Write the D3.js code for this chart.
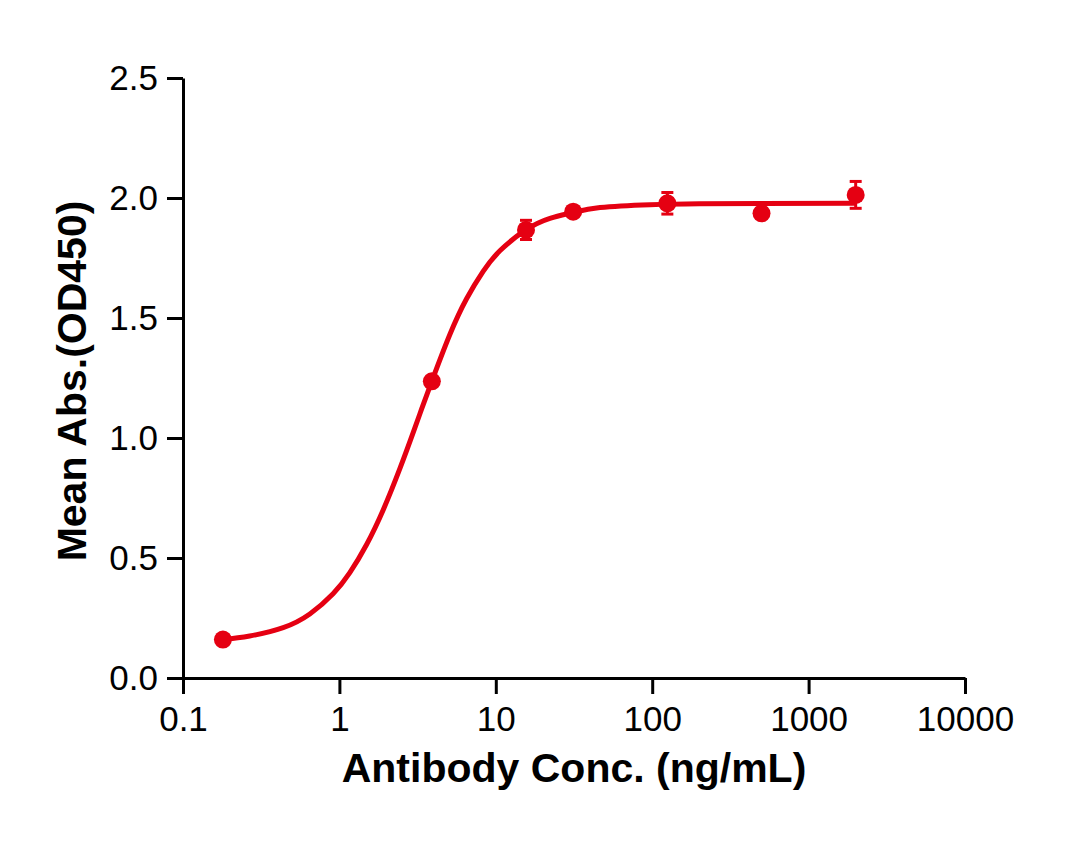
<!DOCTYPE html>
<html>
<head>
<meta charset="utf-8">
<script src="https://cdn.jsdelivr.net/npm/d3@7"></script>
<style>
  body { margin: 0; background: #fff; }
  svg { display: block; }
  text { font-family: "Liberation Sans", Arial, Helvetica, sans-serif; }
</style>
</head>
<body>
<svg id="chart" width="1090" height="849"></svg>
<script>
// measured points (mean +/- sd)
var conc = [0.18, 3.9, 15.6, 31.25, 125, 500, 2000];
var meanAbs = [0.160, 1.236, 1.867, 1.943, 1.978, 1.936, 2.013];
var sdAbs = [0.008, 0.01, 0.04, 0.01, 0.045, 0.01, 0.056];

// fitted curve
var fitX = [0.18, 0.267, 0.437, 0.647, 0.911, 1.166, 1.49, 1.905, 2.435, 2.962, 3.352, 3.918,
            5.085, 6.503, 8.30, 10.62, 15.58, 22.2, 31.0, 46.4, 96.8, 200, 500, 2000];
var fitY = [0.160, 0.175, 0.210, 0.267, 0.351, 0.439, 0.555, 0.700, 0.872, 1.022, 1.120, 1.240,
            1.431, 1.580, 1.694, 1.780, 1.867, 1.915, 1.939, 1.960, 1.972, 1.976, 1.977, 1.978];

var xTicks = [0.1, 1, 10, 100, 1000, 10000];
var yTicks = [0, 0.5, 1.0, 1.5, 2.0, 2.5];

var red = "#e50012";
var margin = {left: 183, top: 78, right: 125, bottom: 171};
var W = 1090, H = 849;

var svg = d3.select("#chart");

var x = d3.scaleLog().domain([0.1, 10000]).range([margin.left, W - margin.right]);
var y = d3.scaleLinear().domain([0, 2.5]).range([H - margin.bottom, margin.top]);

// axes
var xAxis = svg.append("g")
    .attr("transform", "translate(0," + y(0) + ")")
    .call(d3.axisBottom(x).tickValues(xTicks).tickFormat(d3.format("~g")).tickSize(16).tickPadding(10).tickSizeOuter(0));
var yAxis = svg.append("g")
    .attr("transform", "translate(" + x(0.1) + ",0)")
    .call(d3.axisLeft(y).tickValues(yTicks).tickFormat(d3.format(".1f")).tickSize(16).tickPadding(9).tickSizeOuter(0));

[xAxis, yAxis].forEach(function(g){
    g.select(".domain").attr("stroke", "#000").attr("stroke-width", 3);
    g.selectAll(".tick line").attr("stroke", "#000").attr("stroke-width", 3);
    g.selectAll(".tick text").attr("fill", "#000").style("font-size", "35px");
});
xAxis.selectAll(".tick text").attr("dy", "0.78em");

// curve
var line = d3.line()
    .x(function(d){ return x(d[0]); })
    .y(function(d){ return y(d[1]); })
    .curve(d3.curveNatural);

svg.append("path")
    .datum(d3.zip(fitX, fitY))
    .attr("d", line)
    .attr("fill", "none")
    .attr("stroke", red)
    .attr("stroke-width", 5);

// error bars
var pts = conc.map(function(c, i){ return {c: c, m: meanAbs[i], sd: sdAbs[i]}; });
var eb = svg.append("g").attr("stroke", red).attr("stroke-width", 3);
eb.selectAll("line.v").data(pts).enter().append("line")
    .attr("x1", function(d){ return x(d.c); })
    .attr("x2", function(d){ return x(d.c); })
    .attr("y1", function(d){ return y(d.m - d.sd); })
    .attr("y2", function(d){ return y(d.m + d.sd); });
[1, -1].forEach(function(s){
    eb.selectAll("line.cap" + s).data(pts).enter().append("line")
        .attr("x1", function(d){ return x(d.c) - 6; })
        .attr("x2", function(d){ return x(d.c) + 6; })
        .attr("y1", function(d){ return y(d.m + s * d.sd); })
        .attr("y2", function(d){ return y(d.m + s * d.sd); });
});

// points
svg.append("g").selectAll("circle").data(pts).enter().append("circle")
    .attr("cx", function(d){ return x(d.c); })
    .attr("cy", function(d){ return y(d.m); })
    .attr("r", 9)
    .attr("fill", red);

// titles
svg.append("text")
    .attr("x", (x.range()[0] + x.range()[1]) / 2)
    .attr("y", 782)
    .attr("text-anchor", "middle")
    .style("font-size", "41px")
    .style("font-weight", "bold")
    .text("Antibody Conc. (ng/mL)");

svg.append("text")
    .attr("transform", "translate(86,381) rotate(-90)")
    .attr("text-anchor", "middle")
    .style("font-size", "41px")
    .style("font-weight", "bold")
    .text("Mean Abs.(OD450)");
</script>
</body>
</html>
